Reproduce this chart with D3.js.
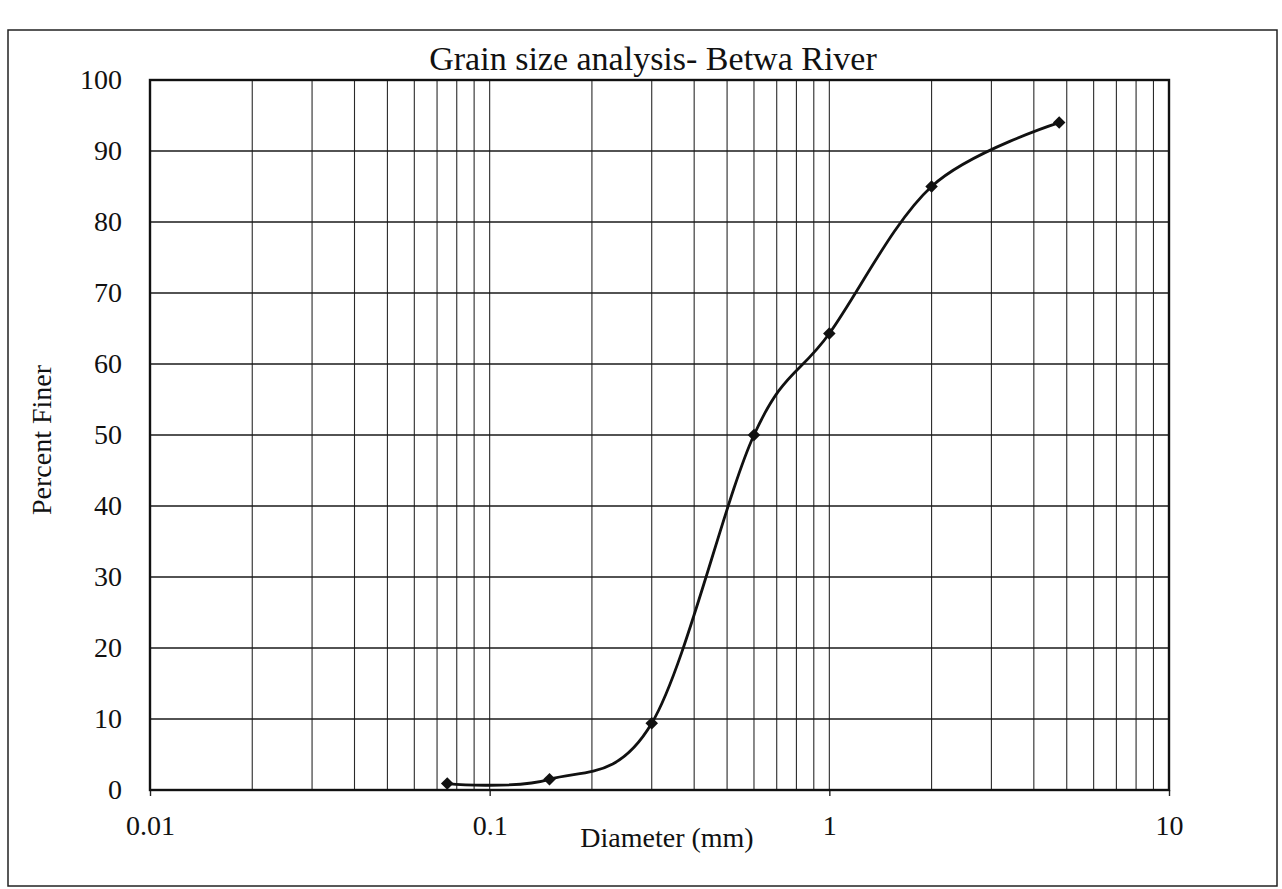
<!DOCTYPE html>
<html>
<head>
<meta charset="utf-8">
<script src="https://cdn.jsdelivr.net/npm/d3@7"></script>
<style>
  body { margin: 0; background: #fff; }
  svg text { font-family: "Liberation Serif", "DejaVu Serif", serif; fill: #111; }
</style>
</head>
<body>
<div id="chart"></div>
<script>
// sieve sizes (mm) and percent finer
var diameters = [0.075, 0.15, 0.3, 0.6, 1, 2, 4.75];
var percentFiner = [0.9, 1.5, 9.4, 50, 64.3, 85, 94];
var xTicks = [0.01, 0.1, 1, 10];
var xTickLabels = ["0.01", "0.1", "1", "10"];
var yTicks = [0, 10, 20, 30, 40, 50, 60, 70, 80, 90, 100];

var svgWidth = 1282;
var svgHeight = 889;

var margin = { top: 80, right: 113, bottom: 99, left: 150 };
var width = svgWidth - margin.left - margin.right;
var height = svgHeight - margin.top - margin.bottom;

var svg = d3.select("#chart")
  .append("svg")
  .attr("width", svgWidth)
  .attr("height", svgHeight);

// outer chart frame
svg.append("rect")
  .attr("x", 8)
  .attr("y", 30)
  .attr("width", 1269)
  .attr("height", 856)
  .attr("fill", "none")
  .attr("stroke", "#222")
  .attr("stroke-width", 1.5);

var chartGroup = svg.append("g")
  .attr("transform", `translate(${margin.left}, ${margin.top})`);

var xScale = d3.scaleLog().domain([0.01, 10]).range([0, width]);
var yScale = d3.scaleLinear().domain([0, 100]).range([height, 0]);

// minor + major vertical grid lines (1..9 in each decade)
var vGrid = [];
[0.01, 0.1, 1].forEach(function (dec) {
  for (var k = 1; k <= 9; k++) vGrid.push(dec * k);
});

chartGroup.append("g")
  .selectAll("line")
  .data(vGrid)
  .enter()
  .append("line")
  .attr("x1", d => xScale(d))
  .attr("x2", d => xScale(d))
  .attr("y1", 0)
  .attr("y2", height)
  .attr("stroke", "#2a2a2a")
  .attr("stroke-width", 1.1);

chartGroup.append("g")
  .selectAll("line")
  .data(yTicks)
  .enter()
  .append("line")
  .attr("x1", 0)
  .attr("x2", width)
  .attr("y1", d => yScale(d))
  .attr("y2", d => yScale(d))
  .attr("stroke", "#1a1a1a")
  .attr("stroke-width", 1.4);

// axes
var bottomAxis = d3.axisBottom(xScale)
  .tickValues(xTicks)
  .tickFormat((d, i) => xTickLabels[i])
  .tickSize(6)
  .tickPadding(19);
var leftAxis = d3.axisLeft(yScale)
  .tickValues(yTicks)
  .tickSize(0)
  .tickPadding(28);

var xAxisG = chartGroup.append("g")
  .attr("transform", `translate(0, ${height})`)
  .call(bottomAxis);
var yAxisG = chartGroup.append("g").call(leftAxis);

[xAxisG, yAxisG].forEach(function (g) {
  g.select(".domain").remove();
  g.selectAll("line").attr("stroke", "#222").attr("stroke-width", 1.4);
  g.selectAll("text")
    .style("font-family", '"Liberation Serif", serif')
    .style("font-size", "28px")
    .attr("fill", "#111");
});

// plot border
chartGroup.append("rect")
  .attr("width", width)
  .attr("height", height)
  .attr("fill", "none")
  .attr("stroke", "#111")
  .attr("stroke-width", 2.4);

// smoothed curve like the spreadsheet's
var points = diameters.map((d, i) => [d, percentFiner[i]]);
var line = d3.line()
  .x(d => xScale(d[0]))
  .y(d => yScale(d[1]))
  .curve(d3.curveCardinal.tension(0));

chartGroup.append("path")
  .datum(points)
  .attr("d", line)
  .attr("fill", "none")
  .attr("stroke", "#111")
  .attr("stroke-width", 2.8);

chartGroup.selectAll(".marker")
  .data(points)
  .enter()
  .append("path")
  .attr("class", "marker")
  .attr("d", d3.symbol().type(d3.symbolDiamond2).size(100))
  .attr("transform", d => `translate(${xScale(d[0])}, ${yScale(d[1])})`)
  .attr("fill", "#111");

// title and axis labels
svg.append("text")
  .attr("x", 653)
  .attr("y", 70)
  .attr("text-anchor", "middle")
  .style("font-size", "34px")
  .text("Grain size analysis- Betwa River");

svg.append("text")
  .attr("transform", "translate(51, 440) rotate(-90)")
  .attr("text-anchor", "middle")
  .style("font-size", "28px")
  .text("Percent Finer");

svg.append("text")
  .attr("x", 667)
  .attr("y", 847)
  .attr("text-anchor", "middle")
  .style("font-size", "28px")
  .text("Diameter (mm)");
</script>
</body>
</html>
